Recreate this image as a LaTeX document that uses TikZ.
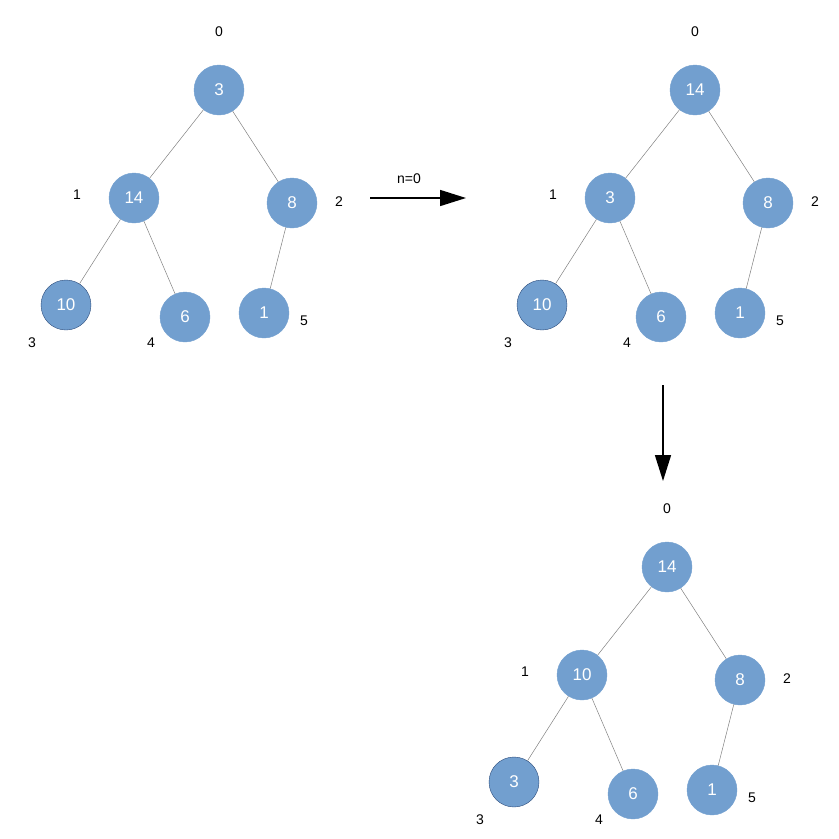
\documentclass[tikz,border=0pt]{standalone}
\usepackage{fontspec}
\setmainfont{Liberation Sans}
\usetikzlibrary{arrows.meta,shapes.geometric}
\definecolor{nb}{HTML}{729FCF}
\definecolor{nd}{HTML}{2A4A7A}
\begin{document}
\begin{tikzpicture}[x=1pt,y=-1pt,
 hn/.style={ellipse,fill=nb,draw=nb,minimum width=50pt,minimum height=50pt,inner sep=0pt,text=white,font=\fontsize{17}{17}\selectfont},
 hb/.style={hn,draw=nd,line width=0.4pt},
 lb/.style={font=\fontsize{14}{14}\selectfont},
 ed/.style={draw=gray,line width=0.5pt},
 ar/.style={line width=1.5pt,-{Triangle[length=26pt,width=16pt]}}]
\useasboundingbox (0,0) rectangle (839,839);
\node[hn] (a0) at (219,90) {3};
\node[hn] (a1) at (134,198) {14};
\node[hn] (a2) at (292,203) {8};
\node[hb] (a3) at (66,305) {10};
\node[hn] (a4) at (185,317) {6};
\node[hn] (a5) at (264,313) {1};
\draw[ed] (a0)--(a1) (a0)--(a2) (a1)--(a3) (a1)--(a4) (a2)--(a5);
\node[lb] (la0) at (219,32) {0};
\node[lb] (la1) at (77,195) {1};
\node[lb] (la2) at (339,202) {2};
\node[lb] (la3) at (32,343) {3};
\node[lb] (la4) at (151,343) {4};
\node[lb] (la5) at (304,321) {5};
\node[hn] (b0) at (695,90) {14};
\node[hn] (b1) at (610,198) {3};
\node[hn] (b2) at (768,203) {8};
\node[hb] (b3) at (542,305) {10};
\node[hn] (b4) at (661,317) {6};
\node[hn] (b5) at (740,313) {1};
\draw[ed] (b0)--(b1) (b0)--(b2) (b1)--(b3) (b1)--(b4) (b2)--(b5);
\node[lb] (lb0) at (695,32) {0};
\node[lb] (lb1) at (553,195) {1};
\node[lb] (lb2) at (815,202) {2};
\node[lb] (lb3) at (508,343) {3};
\node[lb] (lb4) at (627,343) {4};
\node[lb] (lb5) at (780,321) {5};
\node[hn] (c0) at (667,567) {14};
\node[hn] (c1) at (582,675) {10};
\node[hn] (c2) at (740,680) {8};
\node[hb] (c3) at (514,782) {3};
\node[hn] (c4) at (633,794) {6};
\node[hn] (c5) at (712,790) {1};
\draw[ed] (c0)--(c1) (c0)--(c2) (c1)--(c3) (c1)--(c4) (c2)--(c5);
\node[lb] (lc0) at (667,509) {0};
\node[lb] (lc1) at (525,672) {1};
\node[lb] (lc2) at (787,679) {2};
\node[lb] (lc3) at (480,820) {3};
\node[lb] (lc4) at (599,820) {4};
\node[lb] (lc5) at (752,798) {5};
\coordinate (p1) at (370,198); \coordinate (p2) at (466,198);
\draw[ar] (p1)--(p2);
\node[lb] (n0) at (409,179) {n=0};
\coordinate (q1) at (663,385); \coordinate (q2) at (663,481);
\draw[ar] (q1)--(q2);
\end{tikzpicture}
\end{document}
